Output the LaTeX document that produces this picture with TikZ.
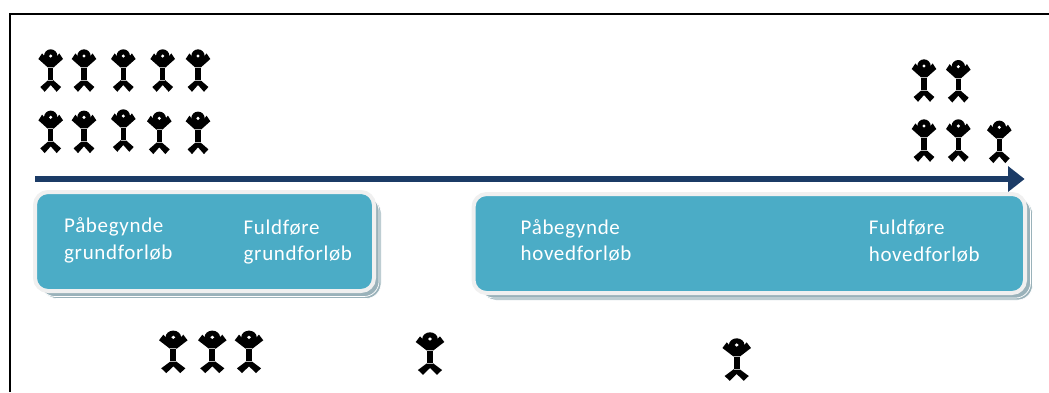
\documentclass[tikz,border=0pt]{standalone}
\usepackage{fontspec}
\setmainfont[LetterSpace=3.2]{Carlito}
\definecolor{arrowblue}{HTML}{1B3B66}
\definecolor{boxteal}{HTML}{4BACC6}
\definecolor{boxedge}{HTML}{F0F0F0}
\definecolor{boxshade}{HTML}{9AB2BA}
\tikzset{
  x=1pt,y=-1pt,
  frameline/.style={draw=black,line width=2.4pt},
  timeline/.style={draw=arrowblue,line width=5.4pt},
  timehead/.style={fill=arrowblue,draw=none},
  boxshadow/.style={fill=boxshade,draw=white,line width=0.7pt,rounded corners=15pt},
  boxfront/.style={fill=boxteal,draw=boxedge,line width=4pt,rounded corners=13pt},
  boxlabel/.style={text=white,font=\fontsize{21}{26.5}\selectfont,align=left,anchor=base west,inner sep=0pt},
  tick/.style={draw=black!30,line width=0.6pt},
  pics/person/.style={code={
    \fill[black] (0,0) circle[radius=6.7];
    \fill[black] (-12.3,3) -- (-8.6,-2.6) -- (-3,4.2) -- (3,4.2) -- (8.6,-2.6) -- (12.3,3) -- (3,11.3) -- (-3,11.3) -- cycle;
    \fill[black] (-2.6,10) rectangle (2.6,24);
    \fill[black] (0,22) -- (10.4,31) -- (6,35.8) -- (0,29) -- (-6,35.8) -- (-10.4,31) -- cycle;
    \fill[white] (0,0) circle[radius=1.7];
    \draw[tick] (-2.6,11.3) -- (2.6,11.3);
    \draw[tick] (-2.6,24) -- (2.6,24);
  }}
}
\begin{document}
\begin{tikzpicture}
\useasboundingbox (0,0) rectangle (1049,392);
\coordinate (frameBL) at (9.8,392);
\coordinate (frameTL) at (9.8,14);
\coordinate (frameTR) at (1049,14);
\draw[frameline] (frameBL) -- (frameTL) -- (frameTR);
% people
\foreach \px/\py in {50.7/56,84/56,123.3/56,162.7/56,198/56,
  50.7/117.3,84/117.3,123.3/116,159.3/118.3,198/118.3,
  924/66,958.3/66.7,924/126,958.3/126,999.3/127.3}
  \pic at (\px,\py) {person};
\foreach \px/\py in {173.3/337.3,212.3/337.3,249/337.3,430/339,736.7/345}
  \pic[xscale=1.16] at (\px,\py) {person};
% arrow
\coordinate (arrowStart) at (35,179);
\coordinate (arrowEnd) at (1010,179);
\draw[timeline] (arrowStart) -- (arrowEnd);
\fill[timehead] (1008,166) -- (1024.5,179) -- (1008,192) -- cycle;
% boxes
\draw[boxshadow] (42,198) rectangle (381,298.5);
\draw[boxshadow] (40,196) rectangle (379,296.5);
\draw[boxfront] (35,192) rectangle (374,291);
\draw[boxshadow] (481,199) rectangle (1032.5,300);
\draw[boxshadow] (479,197) rectangle (1030.5,298);
\draw[boxfront] (473.5,194) rectangle (1025,293);
\node[boxlabel] (a) at (64,259) {Påbegynde\\grundforløb};
\node[boxlabel] (b) at (243.5,260.8) {Fuldføre\\grundforløb};
\node[boxlabel] (c) at (520.5,260.8) {Påbegynde\\hovedforløb};
\node[boxlabel] (d) at (868.7,261) {Fuldføre\\hovedforløb};
\end{tikzpicture}
\end{document}
